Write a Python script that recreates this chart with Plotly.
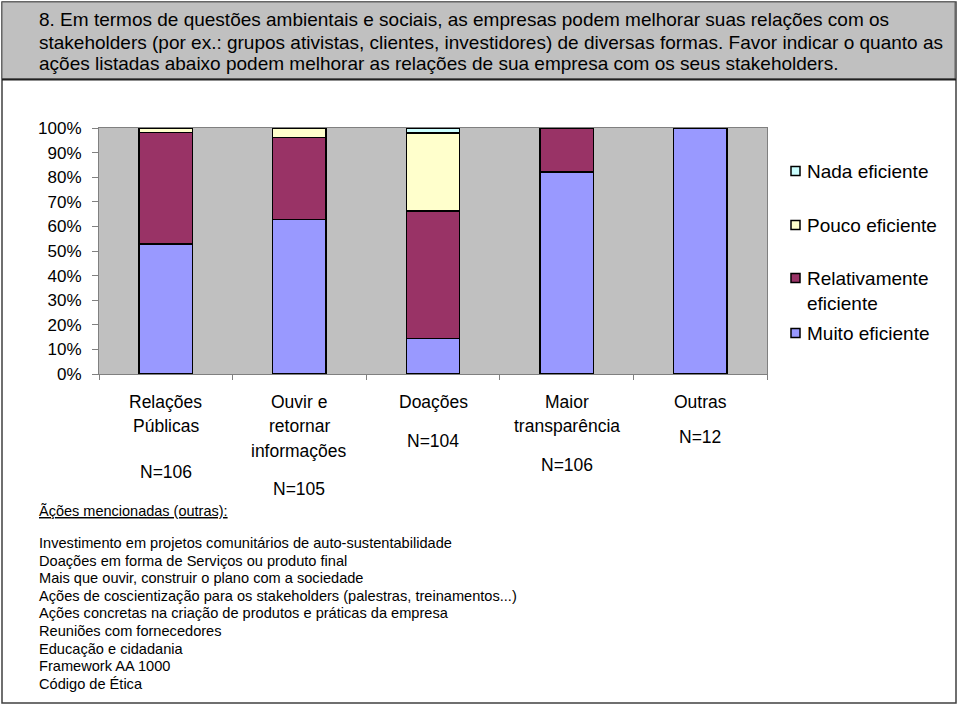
import plotly.graph_objects as go

categories = ["Relações Públicas", "Ouvir e retornar informações", "Doações", "Maior transparência", "Outras"]
muito = [52.8, 62.9, 14.4, 82.1, 100.0]
relativamente = [45.3, 33.3, 51.9, 17.9, 0.0]
pouco = [1.9, 3.8, 31.7, 0.0, 0.0]
nada = [0.0, 0.0, 1.9, 0.0, 0.0]
series_names = ["Muito eficiente", "Relativamente eficiente", "Pouco eficiente", "Nada eficiente"]
series_colors = ["#9999FF", "#993366", "#FFFFCC", "#CCFFFF"]
y_ticks = [0, 10, 20, 30, 40, 50, 60, 70, 80, 90, 100]

header_lines = [
    "8. Em termos de questões ambientais e sociais, as empresas podem melhorar suas relações com os",
    "stakeholders (por ex.: grupos ativistas, clientes, investidores) de diversas formas. Favor indicar o quanto as",
    "ações listadas abaixo podem melhorar as relações de sua empresa com os seus stakeholders.",
]
category_label_lines = [
    [("Relações", 402), ("Públicas", 426), ("N=106", 472)],
    [("Ouvir e", 402), ("retornar", 426), ("informações", 451), ("N=105", 489)],
    [("Doações", 402), ("N=104", 441)],
    [("Maior", 402), ("transparência", 426), ("N=106", 465)],
    [("Outras", 402), ("N=12", 437)],
]
other_title = "Ãções mencionadas (outras):"
other_actions = [
    "Investimento em projetos comunitários de auto-sustentabilidade",
    "Doações em forma de Serviços ou produto final",
    "Mais que ouvir, construir o plano com a sociedade",
    "Ações de coscientização para os stakeholders (palestras, treinamentos...)",
    "Ações concretas na criação de produtos e práticas da empresa",
    "Reuniões com fornecedores",
    "Educação e cidadania",
    "Framework AA 1000",
    "Código de Ética",
]
legend_entries = [
    ("Nada eficiente", "#CCFFFF", 171),
    ("Pouco eficiente", "#FFFFCC", 225),
    ("Relativamente<br>eficiente", "#993366", 278),
    ("Muito eficiente", "#9999FF", 333),
]

FONT = "Liberation Sans, Arial, sans-serif"
L, R, T, B = 99, 767, 128, 374
W, H = 960, 705


def px(x):
    return (x - L) / (R - L)


def py(y):
    return (B - y) / (B - T)


fig = go.Figure()
for name, vals, col in zip(series_names, [muito, relativamente, pouco, nada], series_colors):
    fig.add_trace(go.Bar(
        x=categories, y=vals, name=name, width=0.4,
        marker=dict(color=col, line=dict(color="black", width=1.5)),
        showlegend=False,
    ))

shapes = []
# outer frame
shapes.append(dict(type="rect", xref="paper", yref="paper", x0=px(2), x1=px(956), y0=py(703), y1=py(2),
                   line=dict(color="#404040", width=1.5), fillcolor="rgba(0,0,0,0)", layer="below"))
# header band
shapes.append(dict(type="rect", xref="paper", yref="paper", x0=px(2), x1=px(955), y0=py(79), y1=py(2),
                   line=dict(color="#606060", width=1), fillcolor="#C0C0C0", layer="below"))
shapes.append(dict(type="line", xref="paper", yref="paper", x0=px(2), x1=px(956), y0=py(79.5), y1=py(79.5),
                   line=dict(color="#202020", width=2)))
# legend squares
for text, col, yc in legend_entries:
    shapes.append(dict(type="rect", xref="paper", yref="paper", x0=px(791), x1=px(800), y0=py(yc + 4.5), y1=py(yc - 4.5),
                       line=dict(color="black", width=1.5), fillcolor=col))

annotations = []
for i, line in enumerate(header_lines):
    annotations.append(dict(text=line, xref="paper", yref="paper", x=px(37), y=py([19, 42, 64][i]),
                            xanchor="left", yanchor="middle", showarrow=False,
                            font=dict(family=FONT, size=19, color="black")))
for cat, lines in zip(categories, category_label_lines):
    for text, yy in lines:
        annotations.append(dict(text=text, xref="x", yref="paper", x=cat, y=py(yy),
                                xanchor="center", yanchor="middle", showarrow=False,
                                font=dict(family=FONT, size=17.5, color="black")))
annotations.append(dict(text="<u>" + other_title + "</u>", xref="paper", yref="paper", x=px(37), y=py(511),
                        xanchor="left", yanchor="middle", showarrow=False,
                        font=dict(family=FONT, size=14.5, color="black")))
for i, line in enumerate(other_actions):
    annotations.append(dict(text=line, xref="paper", yref="paper", x=px(37), y=py(543 + i * 17.6),
                            xanchor="left", yanchor="middle", showarrow=False,
                            font=dict(family=FONT, size=14.6, color="black")))
for text, col, yc in legend_entries:
    annotations.append(dict(text=text, xref="paper", yref="paper", x=px(805), y=py(yc - 12),
                            xanchor="left", yanchor="top", align="left", showarrow=False,
                            font=dict(family=FONT, size=19, color="black")))

fig.update_layout(
    width=W, height=H,
    margin=dict(l=L, r=W - R, t=T, b=H - B, pad=0),
    barmode="stack",
    bargap=0.6,
    plot_bgcolor="#C0C0C0",
    paper_bgcolor="white",
    font=dict(family=FONT, size=17, color="black"),
    shapes=shapes,
    annotations=annotations,
    showlegend=False,
)
fig.update_xaxes(
    type="category", showticklabels=False, ticks="outside", tickson="boundaries", ticklen=5,
    tickcolor="#808080", showline=True, linecolor="#808080", linewidth=1, mirror=True,
    showgrid=False, zeroline=False,
)
fig.update_yaxes(
    range=[0, 100], tickvals=y_ticks, ticktext=[f"{v}%" for v in y_ticks],
    ticks="outside", ticklen=6, tickcolor="#808080", ticklabelstandoff=7,
    showline=True, linecolor="#808080", linewidth=1, mirror=True,
    showgrid=False, zeroline=False, tickfont=dict(family=FONT, size=17, color="black"),
)

fig.write_html("out.html", config={"displayModeBar": False},
               post_script="document.body.style.margin='0';document.body.style.padding='0';")
